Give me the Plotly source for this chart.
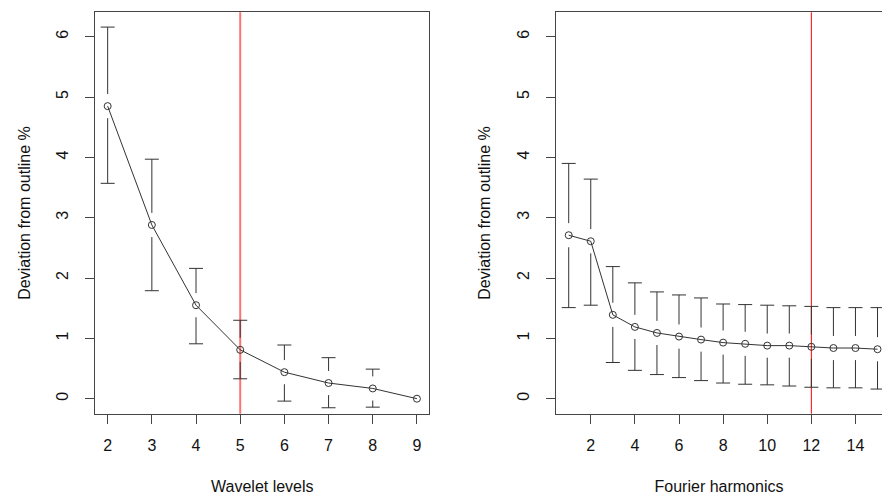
import plotly.graph_objects as go

# ---- data ----
wavelet_levels = [2, 3, 4, 5, 6, 7, 8, 9]
wavelet_mean = [4.85, 2.88, 1.55, 0.81, 0.44, 0.26, 0.17, 0.0]
wavelet_upper = [6.16, 3.97, 2.16, 1.30, 0.89, 0.68, 0.49, None]
wavelet_lower = [3.57, 1.79, 0.91, 0.33, -0.04, -0.15, -0.14, None]

fourier_harmonics = [1, 2, 3, 4, 5, 6, 7, 8, 9, 10, 11, 12, 13, 14, 15]
fourier_mean = [2.71, 2.61, 1.39, 1.19, 1.09, 1.03, 0.98, 0.93, 0.91, 0.88, 0.88, 0.86, 0.84, 0.84, 0.82]
fourier_upper = [3.90, 3.64, 2.19, 1.92, 1.77, 1.72, 1.67, 1.57, 1.56, 1.55, 1.54, 1.53, 1.51, 1.51, 1.51]
fourier_lower = [1.51, 1.55, 0.60, 0.47, 0.40, 0.35, 0.30, 0.26, 0.24, 0.23, 0.21, 0.19, 0.18, 0.18, 0.16]

wavelet_cut = 5
fourier_cut = 12

y_ticks = [0, 1, 2, 3, 4, 5, 6]
wavelet_ticks = [2, 3, 4, 5, 6, 7, 8, 9]
fourier_ticks = [2, 4, 6, 8, 10, 12, 14]

# ---- styling ----
FONT = "Liberation Sans, Arial, sans-serif"
INK = "#111111"
LINE = "#333333"
GAP = 0.2  # gap around points in error bars (data units)

fig = go.Figure()


def add_panel(x, mean, upper, lower, xa, ya):
    bx, by = [], []
    cx, cy = [], []
    for xi, m, u, l in zip(x, mean, upper, lower):
        if u is not None:
            bx += [xi, xi, None]
            by += [u, min(m + GAP, u), None]
            cx.append(xi); cy.append(u)
        if l is not None:
            bx += [xi, xi, None]
            by += [l, max(m - GAP, l), None]
            cx.append(xi); cy.append(l)
    fig.add_trace(go.Scatter(x=bx, y=by, mode="lines", xaxis=xa, yaxis=ya,
                             line=dict(color=LINE, width=1), showlegend=False,
                             hoverinfo="skip"))
    fig.add_trace(go.Scatter(x=cx, y=cy, mode="markers", xaxis=xa, yaxis=ya,
                             marker=dict(symbol="line-ew", size=10,
                                         line=dict(color=LINE, width=1)),
                             showlegend=False, hoverinfo="skip"))
    fig.add_trace(go.Scatter(x=x, y=mean, mode="lines+markers", xaxis=xa, yaxis=ya,
                             line=dict(color=LINE, width=1),
                             marker=dict(symbol="circle-open", size=7, color=LINE,
                                         line=dict(color=LINE, width=1)),
                             showlegend=False))


add_panel(wavelet_levels, wavelet_mean, wavelet_upper, wavelet_lower, "x", "y")
add_panel(fourier_harmonics, fourier_mean, fourier_upper, fourier_lower, "x2", "y2")

W, H = 882, 495
ydom = [(H - 413.7) / H, (H - 12.3) / H]
yrange = [-0.2486, 6.405]

axis_common = dict(showgrid=False, zeroline=False, showline=True, linecolor="#444444",
                   linewidth=1, ticks="outside", ticklen=9, tickcolor="#444444",
                   tickfont=dict(family=FONT, size=16, color=INK),
                   title_font=dict(family=FONT, size=16, color=INK))

fig.update_layout(
    width=W, height=H, margin=dict(l=0, r=0, t=0, b=0),
    paper_bgcolor="white", plot_bgcolor="white",
    xaxis=dict(domain=[95.3 / W, 429.3 / W], range=[1.72, 9.28], tickvals=wavelet_ticks,
               mirror=True, anchor="y", ticklabelstandoff=8,
               title=dict(text="Wavelet levels", standoff=27), **axis_common),
    yaxis=dict(domain=ydom, range=yrange, tickvals=y_ticks, mirror=True, anchor="x",
               tickangle=-90, ticklabelstandoff=11,
               title=dict(text="Deviation from outline %", standoff=19), **axis_common),
    xaxis2=dict(domain=[556 / W, 1.0], range=[0.424, 15.203], tickvals=fourier_ticks,
                mirror=True, anchor="y2", ticklabelstandoff=8,
                title=dict(text="Fourier harmonics", standoff=27), **axis_common),
    yaxis2=dict(domain=ydom, range=yrange, tickvals=y_ticks, mirror=False, anchor="x2",
                tickangle=-90, ticklabelstandoff=11,
                title=dict(text="Deviation from outline %", standoff=19), **axis_common),
    shapes=[
        dict(type="line", xref="x", yref="y domain", x0=wavelet_cut, x1=wavelet_cut,
             y0=0, y1=1, line=dict(color="rgba(255,40,40,0.65)", width=2), layer="below"),
        dict(type="line", xref="x2", yref="y2 domain", x0=fourier_cut, x1=fourier_cut,
             y0=0, y1=1, line=dict(color="#FF0000", width=1), layer="below"),
    ],
)

fig.write_html("out.html")
